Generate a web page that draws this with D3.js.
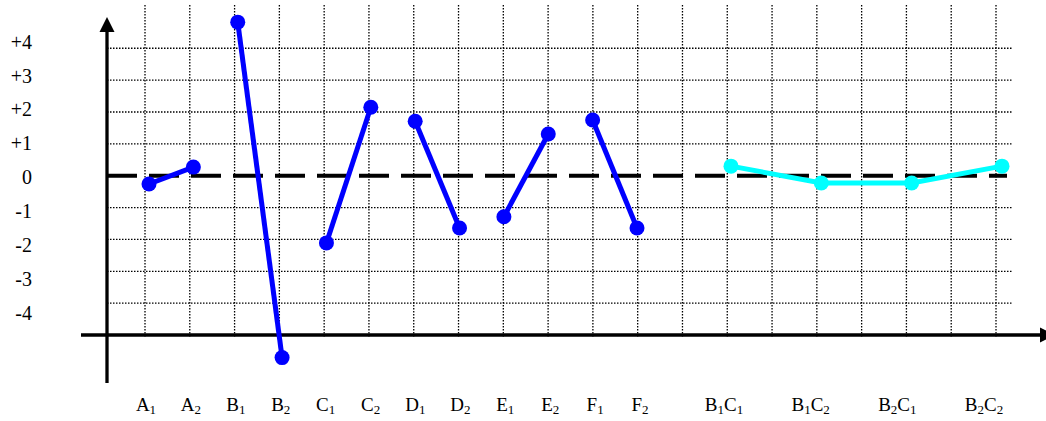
<!DOCTYPE html>
<html>
<head>
<meta charset="utf-8">
<script src="https://cdn.jsdelivr.net/npm/d3@7"></script>
<style>
  html, body { margin: 0; padding: 0; background: #fff; }
  svg { display: block; }
  text { font-family: "Liberation Serif", "Times New Roman", serif; fill: #000; }
</style>
</head>
<body>
<svg id="chart" width="1046" height="421"></svg>
<script>
// ---- data ----
const factorLevels = ["A1","A2","B1","B2","C1","C2","D1","D2","E1","E2","F1","F2"];
const factorValues = [-0.26, 0.27, 4.82, -5.71, -2.11, 2.15, 1.71, -1.64, -1.29, 1.31, 1.75, -1.64];
const interLevels = ["B1C1","B1C2","B2C1","B2C2"];
const interValues = [0.30, -0.23, -0.23, 0.30];
const yTickValues = [4, 3, 2, 1, 0, -1, -2, -3, -4];
const yTickLabels = ["+4","+3","+2","+1","0","-1","-2","-3","-4"];
const gridColumns = 20;

// ---- scales ----
const svg = d3.select("#chart");
const y = d3.scaleLinear().domain([-5, 0]).range([335, 175.7]);
const yLabel = d3.scaleLinear().domain([-4, 4]).range([312.5, 41.5]);
const xGrid = d3.scaleLinear().domain([0, gridColumns - 1]).range([145, 996]);
const xFactor = d3.scalePoint().domain(factorLevels).range([149, 637]);
const xInter = d3.scalePoint().domain(interLevels).range([731, 1002]);
const xFactorLabel = d3.scalePoint().domain(factorLevels).range([146, 640]);
const xInterLabel = d3.scalePoint().domain(interLevels).range([724, 984]);

const axisX = 107, gridRight = 1012;

// ---- grid ----
const grid = svg.append("g").attr("stroke", "#000").attr("stroke-width", 1.3)
  .attr("stroke-dasharray", "1.5 1.5").attr("fill", "none");
grid.selectAll("line.v").data(d3.range(gridColumns)).join("line")
  .attr("class", "v")
  .attr("x1", d => xGrid(d)).attr("x2", d => xGrid(d))
  .attr("y1", 5).attr("y2", 338);
grid.selectAll("line.h").data(yTickValues.filter(v => v !== 0)).join("line")
  .attr("class", "h")
  .attr("x1", axisX).attr("x2", gridRight)
  .attr("y1", d => y(d)).attr("y2", d => y(d));

// ---- zero dashed line ----
svg.append("line")
  .attr("x1", axisX).attr("x2", 1007)
  .attr("y1", y(0)).attr("y2", y(0))
  .attr("stroke", "#000").attr("stroke-width", 4)
  .attr("stroke-dasharray", "30 12");

// ---- axes ----
svg.append("line").attr("x1", axisX).attr("x2", axisX)
  .attr("y1", 30).attr("y2", 383).attr("stroke", "#000").attr("stroke-width", 3.3);
svg.append("path")
  .attr("d", `M${axisX},17 L${axisX - 7.5},32 L${axisX + 7.5},32 Z`).attr("fill", "#000");
svg.append("line").attr("x1", 81).attr("x2", 1042)
  .attr("y1", y(-5)).attr("y2", y(-5)).attr("stroke", "#000").attr("stroke-width", 3.6);
svg.append("path")
  .attr("d", `M1055,${y(-5)} L1040,${y(-5) - 7.5} L1040,${y(-5) + 7.5} Z`).attr("fill", "#000");

// ---- y tick labels ----
svg.append("g").selectAll("text").data(yTickValues).join("text")
  .attr("x", 32).attr("y", d => yLabel(d)).attr("dy", "0.36em")
  .attr("text-anchor", "end").attr("font-size", 20)
  .text((d, i) => yTickLabels[i]);

// ---- x labels with subscripts ----
function subLabel(sel) {
  sel.each(function(d) {
    const t = d3.select(this);
    const parts = d.match(/[A-Z]\d/g);
    let shift = 0;
    parts.forEach(p => {
      t.append("tspan").attr("font-size", 19).attr("dy", -shift).text(p[0]);
      t.append("tspan").attr("font-size", 13).attr("dy", 3).text(p[1]);
      shift = 3;
    });
  });
}
svg.append("g").selectAll("text").data(factorLevels).join("text")
  .attr("x", d => xFactorLabel(d)).attr("y", 411).attr("text-anchor", "middle")
  .call(subLabel);
svg.append("g").selectAll("text").data(interLevels).join("text")
  .attr("x", d => xInterLabel(d)).attr("y", 411).attr("text-anchor", "middle")
  .call(subLabel);

// ---- main effect segments (pairs) ----
const blue = "#0000ff", cyan = "#00ffff";
const pairs = d3.range(0, factorLevels.length, 2);
svg.append("g").selectAll("line").data(pairs).join("line")
  .attr("x1", i => xFactor(factorLevels[i])).attr("y1", i => y(factorValues[i]))
  .attr("x2", i => xFactor(factorLevels[i + 1])).attr("y2", i => y(factorValues[i + 1]))
  .attr("stroke", blue).attr("stroke-width", 5);
svg.append("g").selectAll("circle").data(factorLevels).join("circle")
  .attr("cx", d => xFactor(d)).attr("cy", (d, i) => y(factorValues[i]))
  .attr("r", 7.5).attr("fill", blue);

// ---- interaction line ----
const line = d3.line().x(d => xInter(d)).y((d, i) => y(interValues[i]));
svg.append("path").datum(interLevels).attr("d", line)
  .attr("fill", "none").attr("stroke", cyan).attr("stroke-width", 5);
svg.append("g").selectAll("circle").data(interLevels).join("circle")
  .attr("cx", d => xInter(d)).attr("cy", (d, i) => y(interValues[i]))
  .attr("r", 7.5).attr("fill", cyan);
</script>
</body>
</html>
